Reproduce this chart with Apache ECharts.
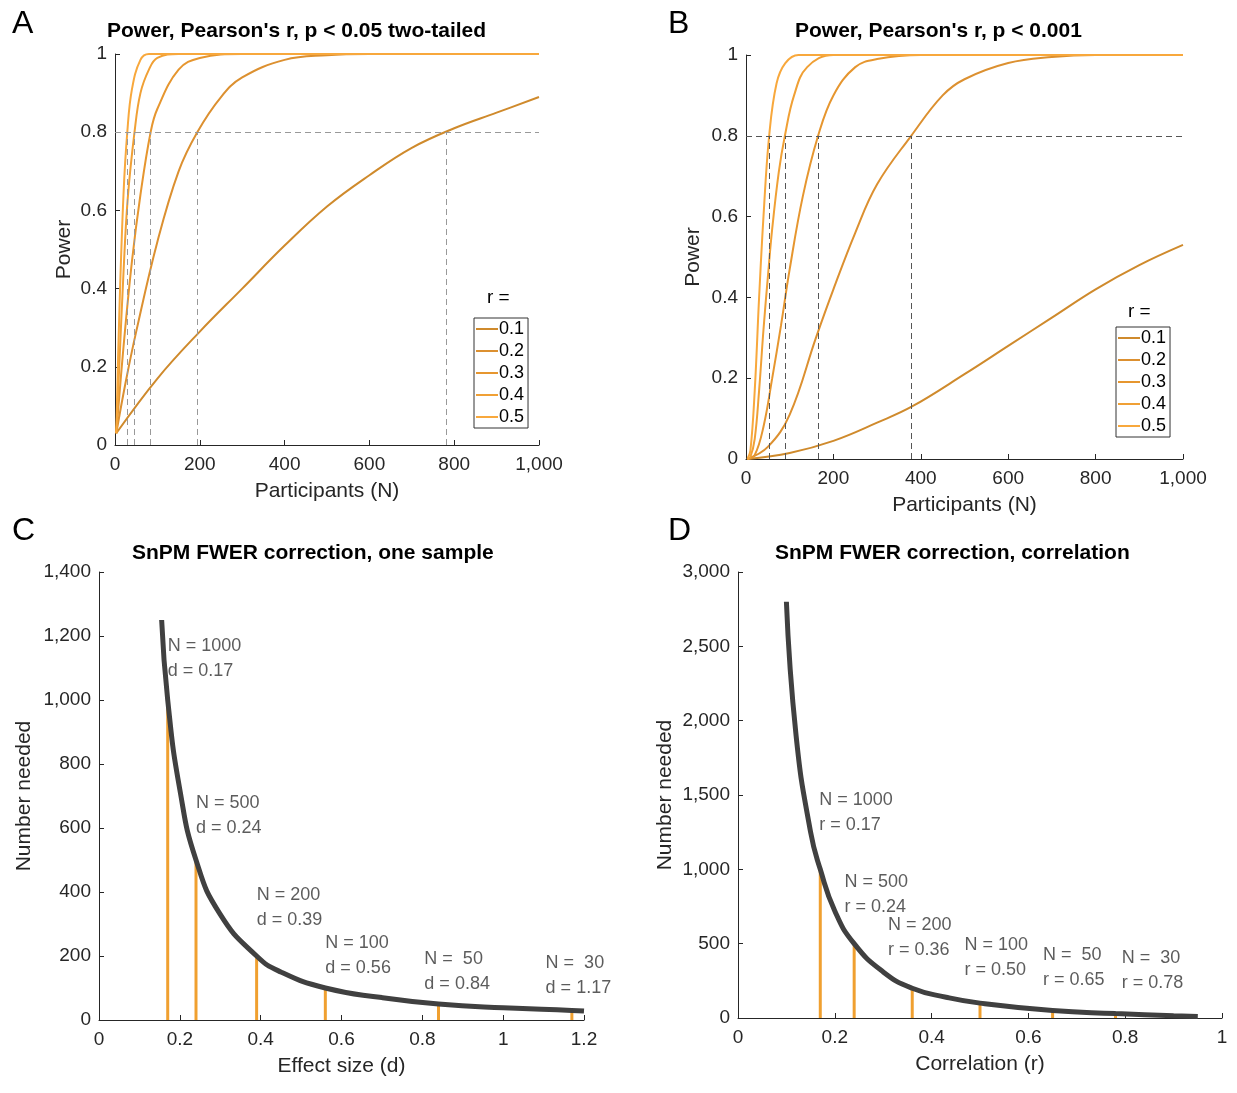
<!DOCTYPE html>
<html><head><meta charset="utf-8">
<script src="https://cdn.jsdelivr.net/npm/echarts@6/dist/echarts.min.js"></script>
<style>html,body{margin:0;background:#fff}#c{width:1237px;height:1093px}</style></head>
<body><div id="c"></div>
<script>
const rLabels=['0.1','0.2','0.3','0.4','0.5'];
const colors=['#cf8a2c','#dc9030','#e6962f','#f0a035','#f8a83c'];
const powerA=[
 [[3,0.03],[100,0.17],[200,0.29],[300,0.40],[400,0.51],[500,0.61],[600,0.69],[700,0.76],[800,0.81],[900,0.85],[1000,0.89]],
 [[3,0.03],[25,0.16],[50,0.29],[100,0.52],[150,0.70],[194,0.80],[250,0.89],[300,0.94],[400,0.985],[500,0.997],[600,1],[1000,1]],
 [[3,0.03],[20,0.25],[40,0.47],[60,0.64],[84,0.80],[100,0.86],[150,0.96],[200,0.99],[300,1],[1000,1]],
 [[3,0.03],[10,0.2],[20,0.44],[30,0.63],[46,0.80],[60,0.90],[80,0.96],[100,0.99],[150,1],[1000,1]],
 [[3,0.03],[10,0.33],[20,0.64],[29,0.80],[40,0.91],[60,0.985],[80,1],[1000,1]]
];
const cutA=[29,46,84,194,782];
const powerB=[
 [[3,0],[100,0.015],[200,0.045],[300,0.09],[380,0.13],[500,0.21],[600,0.28],[700,0.35],[800,0.42],[900,0.48],[1000,0.53]],
 [[3,0],[50,0.03],[100,0.11],[160,0.3],[200,0.42],[250,0.56],[300,0.68],[378,0.80],[450,0.9],[500,0.94],[600,0.98],[700,0.995],[800,1],[1000,1]],
 [[3,0],[20,0.01],[40,0.08],[60,0.2],[80,0.33],[100,0.47],[130,0.65],[165,0.80],[200,0.9],[250,0.97],[300,0.99],[400,1],[1000,1]],
 [[3,0],[10,0.005],[20,0.05],[30,0.17],[40,0.32],[50,0.45],[60,0.57],[75,0.71],[89,0.80],[110,0.9],[140,0.97],[200,1],[1000,1]],
 [[3,0],[10,0.02],[20,0.17],[30,0.40],[40,0.60],[53,0.80],[70,0.93],[90,0.98],[120,1],[1000,1]]
];
const cutB=[53,89,165,378];
const curveC=[[0.155,1250],[0.17,1000],[0.2,720],[0.24,500],[0.3,330],[0.39,200],[0.45,150],[0.56,100],[0.7,70],[0.84,50],[1.0,38],[1.17,30],[1.2,28]];
const stemsC=[[0.17,1000],[0.24,500],[0.39,200],[0.56,100],[0.84,50],[1.17,30]];
const textC=['N = 1000\nd = 0.17','N = 500\nd = 0.24','N = 200\nd = 0.39','N = 100\nd = 0.56','N =  50\nd = 0.84','N =  30\nd = 1.17'];
const textPosC=[[0.17,1130],[0.24,640],[0.39,350],[0.56,200],[0.805,150],[1.105,140]];
const curveD=[[0.1,2800],[0.12,1900],[0.15,1250],[0.17,1000],[0.2,720],[0.24,500],[0.3,310],[0.36,200],[0.43,140],[0.5,100],[0.65,50],[0.78,30],[0.9,15],[0.95,10]];
const stemsD=[[0.17,1000],[0.24,500],[0.36,200],[0.5,100],[0.65,50],[0.78,30]];
const textD=['N = 1000\nr = 0.17','N = 500\nr = 0.24','N = 200\nr = 0.36','N = 100\nr = 0.50','N =  50\nr = 0.65','N =  30\nr = 0.78'];
const textPosD=[[0.168,1380],[0.22,830],[0.31,540],[0.468,410],[0.63,340],[0.793,320]];

const F='Helvetica, "Liberation Sans", Arial, sans-serif';
const tick={color:'#262626',fontSize:19,fontFamily:F};
const nameSt={color:'#262626',fontSize:21,fontFamily:F};
const axL={show:true,lineStyle:{color:'#262626'}};
const grids=[
 {left:115,top:54,width:424,height:391},
 {left:746,top:55,width:437,height:404},
 {left:99,top:572,width:485,height:448},
 {left:738,top:572,width:484,height:446}
];
function xA(i,max,interval,name,fmt){return {gridIndex:i,type:'value',min:0,max,interval,name,nameLocation:'middle',nameGap:36,nameTextStyle:nameSt,axisLine:axL,axisTick:{inside:true,length:5},axisLabel:Object.assign({margin:10,formatter:fmt},tick),splitLine:{show:false}};}
function yA(i,max,interval,name,gap){return {gridIndex:i,type:'value',min:0,max,interval,name,nameLocation:'middle',nameGap:gap,nameTextStyle:nameSt,axisLine:axL,axisTick:{inside:true,length:5},axisLabel:Object.assign({margin:8},tick),splitLine:{show:false}};}
const series=[];
[powerA,powerB].forEach((P,g)=>{
 P.forEach((d,k)=>series.push({name:rLabels[k],type:'line',xAxisIndex:g,yAxisIndex:g,data:d,smooth:0.4,showSymbol:false,lineStyle:{color:colors[k],width:2},itemStyle:{color:colors[k]},z:3}));
 const cuts=g===0?cutA:cutB;
 const ml=[{yAxis:0.8}].concat(cuts.map(c=>[{coord:[c,0]},{coord:[c,0.8]}]));
 series.push({type:'line',xAxisIndex:g,yAxisIndex:g,data:[],markLine:{silent:true,symbol:'none',label:{show:false},lineStyle:{color:g===0?'#999':'#555',type:[6,4],width:1},data:ml}});
});
[[curveC,stemsC,textC,textPosC],[curveD,stemsD,textD,textPosD]].forEach((s,j)=>{
 const g=j+2;
 series.push({type:'bar',xAxisIndex:g,yAxisIndex:g,data:s[1],barWidth:3,itemStyle:{color:'#f0a030'},z:2});
 series.push({type:'line',xAxisIndex:g,yAxisIndex:g,data:s[0],smooth:0.5,showSymbol:false,lineStyle:{color:'#404040',width:5},z:3});
 series.push({type:'scatter',xAxisIndex:g,yAxisIndex:g,symbolSize:0,data:s[3].map((p,i)=>({value:p,label:{formatter:s[2][i]}})),label:{show:true,position:'right',distance:0,color:'#333',fontSize:18,fontFamily:F,lineHeight:25,align:'left'},z:4});
});
const ttl=(t,x,y)=>({type:'text',left:x,top:y,style:{text:t,font:'bold 21px '+F,fill:'#000',textAlign:'center'}});
const opt={
 animation:false,
 grid:grids,
 xAxis:[xA(0,1000,200,'Participants (N)'),xA(1,1000,200,'Participants (N)'),xA(2,1.2,0.2,'Effect size (d)',v=>+v.toFixed(1)+''),xA(3,1,0.2,'Correlation (r)',v=>+v.toFixed(1)+'')],
 yAxis:[yA(0,1,0.2,'Power',40),yA(1,1,0.2,'Power',42),yA(2,1400,200,'Number needed',64),yA(3,3000,500,'Number needed',62)],
 legend:[{data:rLabels,orient:'vertical',left:474,top:318,itemGap:4,itemWidth:22,itemHeight:2,icon:'rect',textStyle:{fontSize:18,color:'#000',fontFamily:F,padding:[0,0,0,-4]},borderColor:'#333',borderWidth:1,padding:[2,4,2,2],borderRadius:0}],
 series,
 graphic:[
  {type:'text',left:12,top:8,style:{text:'A',font:'32px '+F,fill:'#000'}},
  {type:'text',left:668,top:8,style:{text:'B',font:'32px '+F,fill:'#000'}},
  {type:'text',left:12,top:515,style:{text:'C',font:'32px '+F,fill:'#000'}},
  {type:'text',left:668,top:515,style:{text:'D',font:'32px '+F,fill:'#000'}},
  {type:'text',left:107,top:21,style:{text:"Power, Pearson's r, p < 0.05 two-tailed",font:'bold 21px '+F,fill:'#000'}},
  {type:'text',left:795,top:21,style:{text:"Power, Pearson's r, p < 0.001",font:'bold 21px '+F,fill:'#000'}},
  {type:'text',left:132,top:543,style:{text:'SnPM FWER correction, one sample',font:'bold 21px '+F,fill:'#000'}},
  {type:'text',left:775,top:543,style:{text:'SnPM FWER correction, correlation',font:'bold 21px '+F,fill:'#000'}},
  {type:'text',left:487,top:288,style:{text:'r =',font:'19px '+F,fill:'#000'}},
  {type:'text',left:1128,top:302,style:{text:'r =',font:'19px '+F,fill:'#000'}}
 ]
};
const opt2=JSON.parse(JSON.stringify({}));
const ch=echarts.init(document.getElementById('c'));
// second legend for panel B
opt.legend.push(Object.assign({},opt.legend[0],{left:1116,top:327}));
ch.setOption(opt);
</script></body></html>
